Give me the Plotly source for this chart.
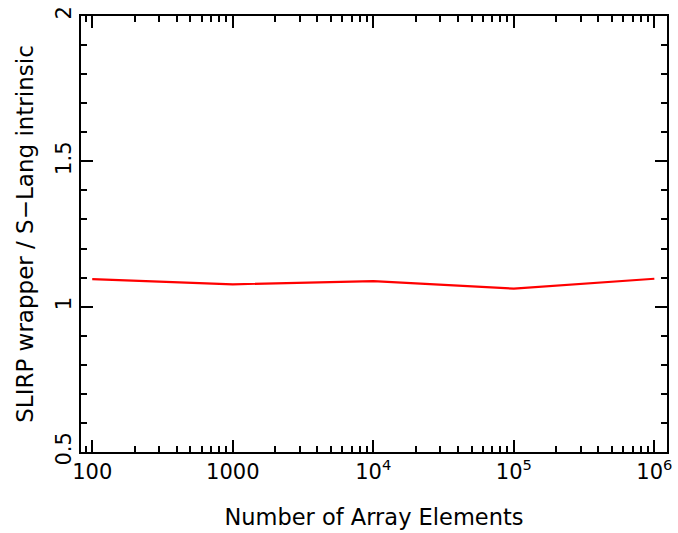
import plotly.graph_objects as go

n_elements = [100, 1000, 10000, 100000, 1000000]
ratio = [1.095, 1.077, 1.088, 1.062, 1.096]

x_major = [100, 1000, 10000, 100000, 1000000]
x_major_text = ["100", "1000", "10<sup>4</sup>", "10<sup>5</sup>", "10<sup>6</sup>"]
x_minor = [m * 10**e for e in range(1, 7) for m in range(2, 10)]
y_major = [0.5, 1, 1.5, 2]
y_major_text = ["0.5", "1", "1.5", "2"]
y_minor = [round(0.5 + 0.1 * i, 2) for i in range(16)]

FONT = "DejaVu Sans"

fig = go.Figure()
fig.add_trace(go.Scatter(x=n_elements, y=ratio, mode="lines",
                         line=dict(color="#ff0000", width=2.2), showlegend=False))
# invisible trace to activate the minor-tick overlay axes
fig.add_trace(go.Scatter(x=n_elements, y=ratio, mode="lines", xaxis="x2", yaxis="y2",
                         line=dict(color="rgba(0,0,0,0)"), showlegend=False, hoverinfo="skip"))

xr = [1.92, 6.09]
yr = [0.5, 2.0]

fig.update_layout(
    width=678, height=533,
    margin=dict(l=81, r=11, t=16, b=81),
    paper_bgcolor="white", plot_bgcolor="white",
    font=dict(family=FONT, size=22, color="black"),
    xaxis=dict(type="log", range=xr, tickvals=x_major, ticktext=x_major_text,
               ticks="inside", ticklen=12, tickwidth=2, tickcolor="black",
               showline=True, linewidth=2, linecolor="black", mirror="allticks",
               showgrid=False, zeroline=False, automargin=False,
               tickfont=dict(family=FONT, size=21),
               title=dict(text="Number of Array Elements", font=dict(family=FONT, size=22.5), standoff=26)),
    yaxis=dict(range=yr, tickvals=y_major, ticktext=y_major_text, tickangle=-90,
               ticks="inside", ticklen=12, tickwidth=2, tickcolor="black",
               showline=True, linewidth=2, linecolor="black", mirror="allticks",
               showgrid=False, zeroline=False, automargin=False,
               tickfont=dict(family=FONT, size=21),
               title=dict(text="SLIRP wrapper / S\u2212Lang intrinsic", font=dict(family=FONT, size=23), standoff=12)),
    xaxis2=dict(type="log", range=xr, overlaying="x", tickvals=x_minor, showticklabels=False,
                ticks="inside", ticklen=6, tickwidth=2, tickcolor="black", automargin=False,
                showline=False, mirror="allticks", showgrid=False, zeroline=False),
    yaxis2=dict(range=yr, overlaying="y", tickvals=y_minor, showticklabels=False,
                ticks="inside", ticklen=6, tickwidth=2, tickcolor="black", automargin=False,
                showline=False, mirror="allticks", showgrid=False, zeroline=False),
)

fig.write_html("out.html", config={"displayModeBar": False},
               post_script="document.body.style.margin='0';")
